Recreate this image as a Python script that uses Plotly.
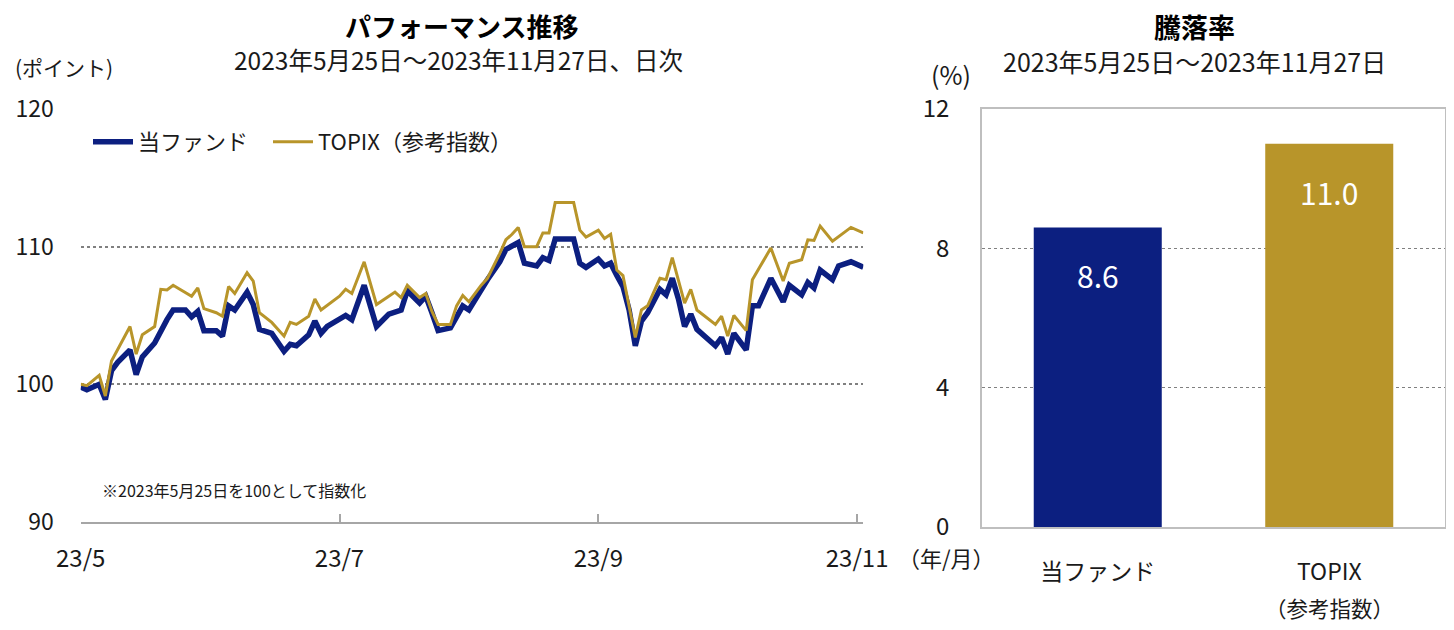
import plotly.graph_objects as go

W, H = 1454, 630          # browser window
OFF = 8                   # default page body margin around the plot div
FW, FH = W - 2 * OFF, H - 2 * OFF
FONT = "Noto Sans CJK JP"
NAVY = "#0C1F80"
GOLD = "#B8952A"
GRID = "#808080"
TXT = "#1a1a1a"

# ---- line chart data (trading-day index from 2023-05-25) ----
fund_idx = [0, 1, 3, 4, 5, 6, 8, 9, 10, 12, 14, 15, 17, 18, 19, 20, 22, 23, 24, 25,
            27, 28, 29, 31, 33, 34, 35, 37, 38, 39, 40, 42, 43, 44, 46, 48, 50, 52, 53, 55,
            56, 57, 58, 60, 62, 63, 65, 66, 68, 69, 71, 72, 74, 75, 76, 77, 80, 81, 82, 84,
            85, 86, 87, 88, 89, 90, 91, 92, 94, 95, 96, 97, 98, 99, 100, 103, 104, 105, 106, 108,
            109, 110, 112, 114, 115, 117, 118, 119, 120, 122, 123, 125, 127]
fund_val = [99.8, 99.6, 100.0, 98.9, 101.0, 101.6, 102.5, 100.7, 102.0, 103.0,
            104.7, 105.4, 105.4, 104.9, 105.3, 103.9, 103.9, 103.5, 105.7, 105.4,
            106.7, 105.8, 104.0, 103.7, 102.4, 102.9, 102.8, 103.6, 104.6, 103.7,
            104.2, 104.8, 105.0, 104.7, 107.2, 104.2, 105.1, 105.4, 106.8, 105.9,
            106.4, 105.2, 103.9, 104.1, 105.7, 105.4, 106.9, 107.6, 108.9, 109.8,
            110.3, 108.8, 108.6, 109.2, 109.0, 110.55, 110.55, 108.8, 108.5, 109.1,
            108.6, 108.8, 107.9, 107.1, 105.4, 102.8, 104.6, 105.2, 106.9, 106.5,
            107.7, 106.2, 104.2, 105.1, 104.0, 102.8, 103.4, 102.2, 103.7, 102.5,
            105.7, 105.7, 107.7, 106.0, 107.2, 106.5, 107.4, 107.0, 108.3, 107.6,
            108.6, 108.9, 108.5]

topix_idx = [0, 1, 3, 4, 5, 8, 9, 10, 12, 13, 14, 15, 18, 19, 20, 22, 23, 24, 25, 27,
             28, 29, 31, 33, 34, 35, 37, 38, 39, 42, 43, 44, 46, 48, 50, 51, 52, 53, 55, 56,
             57, 58, 60, 61, 62, 63, 65, 66, 68, 69, 70, 71, 72, 74, 75, 76, 77, 80, 81, 82,
             84, 85, 86, 87, 88, 90, 91, 92, 94, 95, 96, 97, 98, 99, 100, 103, 104, 105, 106, 108,
             109, 112, 114, 115, 117, 118, 119, 120, 122, 125, 127]
topix_val = [100.0, 99.9, 100.65, 99.15, 101.7, 104.2, 102.2, 103.6, 104.2, 106.9,
             106.85, 107.2, 106.4, 107.0, 105.5, 105.2, 104.95, 107.1, 106.6, 108.1,
             107.5, 105.2, 104.5, 103.5, 104.5, 104.35, 104.95, 106.2, 105.4, 106.4,
             106.9, 106.6, 108.9, 105.8, 106.4, 106.7, 106.3, 107.2, 106.3, 106.6,
             105.3, 104.35, 104.35, 105.7, 106.45, 106.0, 107.2, 107.7, 109.5, 110.5,
             110.9, 111.4, 110.0, 110.0, 111.0, 111.0, 113.2, 113.2, 111.2, 110.7,
             111.2, 110.6, 110.9, 108.3, 107.9, 103.4, 105.4, 105.7, 107.7, 107.6,
             109.2, 107.6, 105.9, 106.9, 105.4, 104.35, 104.95, 103.5, 105.0, 103.9,
             107.6, 109.9, 107.5, 108.8, 109.05, 110.5, 110.45, 111.5, 110.4, 111.4,
             111.0]

x_tick_idx = [0, 42, 84, 126]
x_tick_labels = ["23/5", "23/7", "23/9", "23/11"]
y_ticks = [90, 100, 110, 120]

# ---- bar chart data ----
bar_categories = ["当ファンド", "TOPIX"]
bar_sublabels = ["", "（参考指数）"]
bar_values = [8.6, 11.0]
bar_colors = [NAVY, GOLD]
bar_ticks = [0, 4, 8, 12]


def fx(p):
    return min(1.0, max(0.0, (p - OFF) / FW))


def fy(p):
    return min(1.0, max(0.0, 1 - (p - OFF) / FH))


fig = go.Figure()
fig.add_trace(go.Scatter(x=fund_idx, y=fund_val, mode="lines", name="当ファンド",
                         line=dict(color=NAVY, width=5.5), xaxis="x", yaxis="y", legend="legend"))
fig.add_trace(go.Scatter(x=topix_idx, y=topix_val, mode="lines", name="TOPIX（参考指数）",
                         line=dict(color=GOLD, width=3), xaxis="x", yaxis="y", legend="legend2"))
fig.add_trace(go.Bar(x=bar_categories, y=bar_values, marker=dict(color=bar_colors, line=dict(width=0)),
                     width=0.553, xaxis="x2", yaxis="y2", showlegend=False, hoverinfo="skip"))

ann = []
ann.append(dict(text="<b>パフォーマンス推移</b>", x=fx(461), y=fy(25.5), xanchor="center",
                font=dict(size=26, color="black")))
ann.append(dict(text="2023年5月25日～2023年11月27日、日次", x=fx(459), y=fy(59.5), xanchor="center",
                font=dict(size=24.5, color=TXT)))
ann.append(dict(text="(ポイント)", x=fx(13), y=fy(67), xanchor="left", font=dict(size=21, color=TXT)))
ann.append(dict(text="※2023年5月25日を100として指数化", x=fx(100), y=fy(490), xanchor="left",
                font=dict(size=16, color=TXT)))
ann.append(dict(text="（年/月）", x=fx(896), y=fy(557), xanchor="left", font=dict(size=22, color=TXT)))
ann.append(dict(text="<b>騰落率</b>", x=fx(1194), y=fy(26), xanchor="center",
                font=dict(size=27, color="black")))
ann.append(dict(text="2023年5月25日～2023年11月27日", x=fx(1194), y=fy(61), xanchor="center",
                font=dict(size=25, color=TXT)))
ann.append(dict(text="(%)", x=fx(973), y=fy(74), xanchor="right", font=dict(size=25, color=TXT)))

for a in ann:
    a.update(xref="paper", yref="paper", showarrow=False, yanchor="middle")

for cat, v, sub in zip(bar_categories, bar_values, bar_sublabels):
    ann.append(dict(text=f"{v:.1f}", x=cat, y=v, xref="x2", yref="y2", showarrow=False,
                    xanchor="center", yanchor="middle", yshift=-48,
                    font=dict(size=30, color="white")))
    if sub:
        ann.append(dict(text=sub, x=cat, y=fy(607), xref="x2", yref="paper", showarrow=False,
                        xanchor="center", yanchor="middle", font=dict(size=21.5, color=TXT)))

legend_common = dict(orientation="h", yanchor="middle", xanchor="left",
                     font=dict(size=22, color=TXT), bgcolor="rgba(0,0,0,0)", itemwidth=40)

fig.update_layout(
    width=FW, height=FH, autosize=False,
    margin=dict(l=0, r=0, t=0, b=0, pad=0, autoexpand=False),
    paper_bgcolor="white", plot_bgcolor="white",
    font=dict(family=FONT, color=TXT),
    showlegend=True,
    legend=dict(x=fx(88), y=fy(142), **legend_common),
    legend2=dict(x=fx(268), y=fy(142), **legend_common),
    xaxis=dict(domain=[fx(80.7), fx(863.3)], range=[0, 127], tickmode="array",
               tickvals=x_tick_idx, ticktext=x_tick_labels, ticks="inside", ticklen=8,
               tickcolor="#A6A6A6", tickwidth=1.5, showline=True, linecolor="#A6A6A6", linewidth=2,
               showgrid=False, zeroline=False, tickfont=dict(size=24, color=TXT),
               ticklabelstandoff=14, anchor="y", fixedrange=True, automargin=False),
    yaxis=dict(domain=[fy(522), fy(109)], range=[90, 120], tickmode="array", tickvals=y_ticks,
               showgrid=True, gridcolor=GRID, griddash="dot", gridwidth=1.5,
               showline=False, zeroline=False, ticks="", tickfont=dict(size=23, color=TXT),
               ticklabelstandoff=26, anchor="x", fixedrange=True, automargin=False),
    xaxis2=dict(domain=[fx(982), fx(1445)], range=[-0.5, 1.5], type="category",
                showline=True, mirror=True, linecolor="#BFBFBF", linewidth=1.5,
                showgrid=False, zeroline=False, ticks="", tickfont=dict(size=23, color=TXT),
                ticklabelstandoff=24, anchor="y2", fixedrange=True, automargin=False),
    yaxis2=dict(domain=[fy(527), fy(109)], range=[0, 12], tickmode="array", tickvals=bar_ticks,
                showgrid=True, gridcolor=GRID, griddash="dot", gridwidth=1.2,
                showline=True, mirror=True, linecolor="#BFBFBF", linewidth=1.5,
                zeroline=False, ticks="", tickfont=dict(size=24, color=TXT),
                ticklabelstandoff=26, anchor="x2", fixedrange=True, automargin=False),
    annotations=ann,
)

fig.write_html("out.html")
